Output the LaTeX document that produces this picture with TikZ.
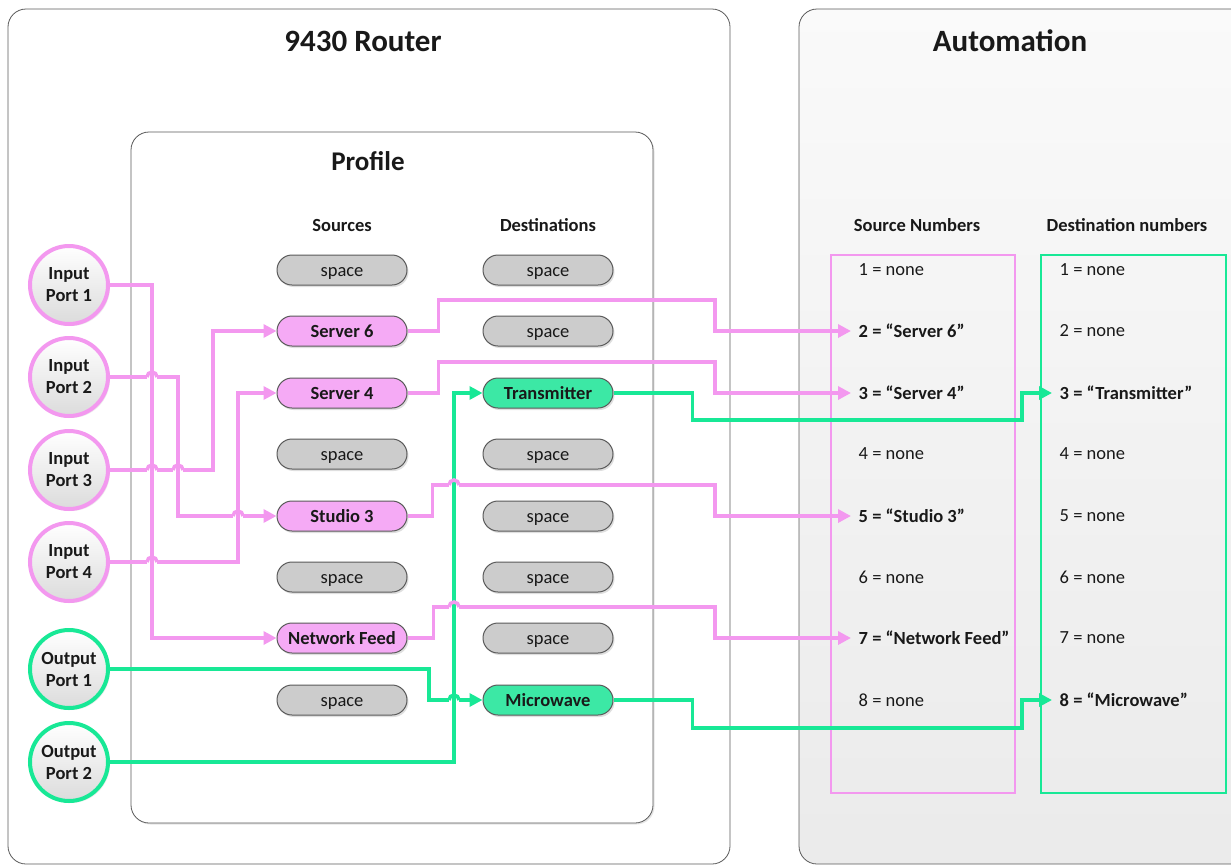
\documentclass[tikz,border=0pt]{standalone}
\usepackage{fontspec}
\setmainfont{Carlito}
\usepackage{xcolor}
\usepackage{tikz}
\usetikzlibrary{arrows.meta, shadows}

\definecolor{pinkline}{RGB}{243,152,239}
\definecolor{pinkfill}{RGB}{245,170,245}
\definecolor{greenline}{RGB}{24,232,150}
\definecolor{greenfill}{RGB}{60,232,165}
\definecolor{pillgray}{RGB}{204,204,204}
\definecolor{edgegray}{RGB}{90,90,90}
\definecolor{ink}{RGB}{25,25,25}

% line jump: x, y, colour of the jumping line, colour of the crossed line
\newcommand\hopover[4]{%
    \fill[white] ({#1-5},{#2-2.5}) rectangle ({#1+5},{#2+2.5});
    \draw[draw=#4, line width=3.5pt] (#1,{#2-7}) -- (#1,{#2+7});
    \draw[draw=#3, line width=3.5pt] ({#1-5},#2) arc[start angle=180, end angle=0, radius=5pt];
}

\begin{document}
\begin{tikzpicture}[x=1pt, y=-1pt,
        panel/.style={
            rectangle, draw=edgegray, line width=0.8pt,
            rounded corners=18pt, fill=white, inner sep=0pt
        },
        title/.style={font=\fontsize{31}{36}\selectfont\bfseries, text=ink},
        colhead/.style={font=\fontsize{18.5}{22}\selectfont\bfseries, text=ink},
        port/.style={
            circle, line width=4pt, minimum size=78pt, inner sep=0pt,
            top color=white, bottom color=black!14, align=center,
            font=\fontsize{18.5}{22}\selectfont\bfseries, text=ink,
            drop shadow={shadow xshift=2pt, shadow yshift=-2pt, opacity=0.15}
        },
        pill/.style={
            rectangle, rounded corners=15pt, draw=edgegray, line width=1pt,
            fill=pillgray, minimum width=130pt, minimum height=30pt,
            inner sep=0pt, text height=13pt, text depth=1pt,
            font=\fontsize{18.5}{22}\selectfont, text=ink,
            drop shadow={shadow xshift=1.5pt, shadow yshift=-2pt, opacity=0.25}
        },
        srcpill/.style={pill, fill=pinkfill, font=\fontsize{18.5}{22}\selectfont\bfseries},
        dstpill/.style={pill, fill=greenfill, font=\fontsize{18.5}{22}\selectfont\bfseries},
        entry/.style={anchor=west, inner xsep=7.5pt, font=\fontsize{18.5}{22}\selectfont, text=ink},
        bentry/.style={entry, font=\fontsize{18.5}{22}\selectfont\bfseries},
        rel/.style={draw=pinkline, line width=3.5pt, -{Triangle[length=13pt, width=13pt]}},
        relg/.style={rel, draw=greenline}
    ]
        \useasboundingbox (0,0) rectangle (1231,865);

        % frames
        \node[panel, minimum width=722pt, minimum height=855pt] (router) at (369,436.5) {};
        \node[panel, top color=white!98!black, bottom color=black!8,
            minimum width=460pt, minimum height=855pt] (auto) at (1029,436.5) {};
        \node[panel, minimum width=522pt, minimum height=691pt,
            drop shadow={shadow xshift=1.5pt, shadow yshift=-1.5pt, opacity=0.2}] (profile) at (392,477.5) {};
        \node[rectangle, draw=pinkline, line width=1.3pt, minimum width=184pt,
            minimum height=538pt] (srclist) at (923,524) {};
        \node[rectangle, draw=greenline, line width=1.3pt, minimum width=185pt,
            minimum height=538pt] (dstlist) at (1133.5,524) {};

        \node[title] (routert) at (363,41) {9430 Router};
        \node[title] (autot) at (1010,41) {Automation};
        \node[title, font=\fontsize{27}{32}\selectfont\bfseries] (proft) at (368,161) {Profile};
        \node[colhead] (srch) at (342,225) {Sources};
        \node[colhead] (dsth) at (548,225) {Destinations};
        \node[colhead] (snh) at (917,225) {Source Numbers};
        \node[colhead] (dnh) at (1127,225) {Destination numbers};

        % ports
        \node[port, draw=pinkline] (in1) at (69,285) {Input\\Port 1};
        \node[port, draw=pinkline] (in2) at (69,377) {Input\\Port 2};
        \node[port, draw=pinkline] (in3) at (69,470) {Input\\Port 3};
        \node[port, draw=pinkline] (in4) at (69,562) {Input\\Port 4};
        \node[port, draw=greenline] (out1) at (69,669) {Output\\Port 1};
        \node[port, draw=greenline] (out2) at (69,762) {Output\\Port 2};

        % profile sources
        \node[pill] (sp1) at (342,270) {space};
        \node[srcpill] (s6) at (342,331) {Server 6};
        \node[srcpill] (s4) at (342,393) {Server 4};
        \node[pill] (sp4) at (342,454) {space};
        \node[srcpill] (st3) at (342,516) {Studio 3};
        \node[pill] (sp6) at (342,577) {space};
        \node[srcpill] (nf) at (342,638) {Network Feed};
        \node[pill] (sp8) at (342,700) {space};

        % profile destinations
        \node[pill] (dp1) at (548,270) {space};
        \node[pill] (dp2) at (548,331) {space};
        \node[dstpill] (tx) at (548,393) {Transmitter};
        \node[pill] (dp4) at (548,454) {space};
        \node[pill] (dp5) at (548,516) {space};
        \node[pill] (dp6) at (548,577) {space};
        \node[pill] (dp7) at (548,638) {space};
        \node[dstpill] (mw) at (548,700) {Microwave};

        % automation numbers
        \node[entry] (sn1) at (851,270) {1 = none};
        \node[bentry] (sn2) at (851,331) {2 = “Server 6”};
        \node[bentry] (sn3) at (851,393) {3 = “Server 4”};
        \node[entry] (sn4) at (851,454) {4 = none};
        \node[bentry] (sn5) at (851,516) {5 = “Studio 3”};
        \node[entry] (sn6) at (851,577) {6 = none};
        \node[bentry] (sn7) at (851,638) {7 = “Network Feed”};
        \node[entry] (sn8) at (851,700) {8 = none};

        \node[entry] (dn1) at (1052,270) {1 = none};
        \node[entry] (dn2) at (1052,331) {2 = none};
        \node[bentry] (dn3) at (1052,393) {3 = “Transmitter”};
        \node[entry] (dn4) at (1052,454) {4 = none};
        \node[entry] (dn5) at (1052,516) {5 = none};
        \node[entry] (dn6) at (1052,577) {6 = none};
        \node[entry] (dn7) at (1052,638) {7 = none};
        \node[bentry] (dn8) at (1052,700) {8 = “Microwave”};

        % inputs -> sources
        \draw[rel] (in1.east) -- ++(42,0) |- (nf.west);
        \draw[rel] (in2.east) -- ++(68,0) |- (st3.west);
        \draw[rel] (in3.east) -- ++(103,0) |- (s6.west);
        \draw[rel] (in4.east) -- ++(128,0) |- (s4.west);

        % sources -> source numbers
        \draw[rel] (s6.east) -- ++(31,0) -- ++(0,-31) -| ([xshift=-136]sn2.west) -- (sn2.west);
        \draw[rel] (s4.east) -- ++(31,0) -- ++(0,-31) -| ([xshift=-136]sn3.west) -- (sn3.west);
        \draw[rel] (st3.east) -- ++(25,0) -- ++(0,-31) -| ([xshift=-136]sn5.west) -- (sn5.west);
        \draw[rel] (nf.east) -- ++(26,0) -- ++(0,-31) -| ([xshift=-136]sn7.west) -- (sn7.west);

        % outputs -> destinations -> destination numbers
        \draw[relg] (out1.east) -- ++(319,0) |- (mw.west);
        \draw[relg] (out2.east) -- ++(344,0) |- (tx.west);
        \draw[relg] (tx.east) -- ++(79,0) -- ++(0,27) -| ([xshift=-30]dn3.west) -- (dn3.west);
        \draw[relg] (mw.east) -- ++(79,0) -- ++(0,28) -| ([xshift=-30]dn8.west) -- (dn8.west);

        % line jumps
        \hopover{152}{377}{pinkline}{pinkline}
        \hopover{152}{470}{pinkline}{pinkline}
        \hopover{178}{470}{pinkline}{pinkline}
        \hopover{152}{562}{pinkline}{pinkline}
        \hopover{238}{516}{pinkline}{pinkline}
        \hopover{454}{485}{pinkline}{greenline}
        \hopover{454}{607}{pinkline}{greenline}
        \hopover{454}{700}{greenline}{greenline}
    \end{tikzpicture}
\end{document}
